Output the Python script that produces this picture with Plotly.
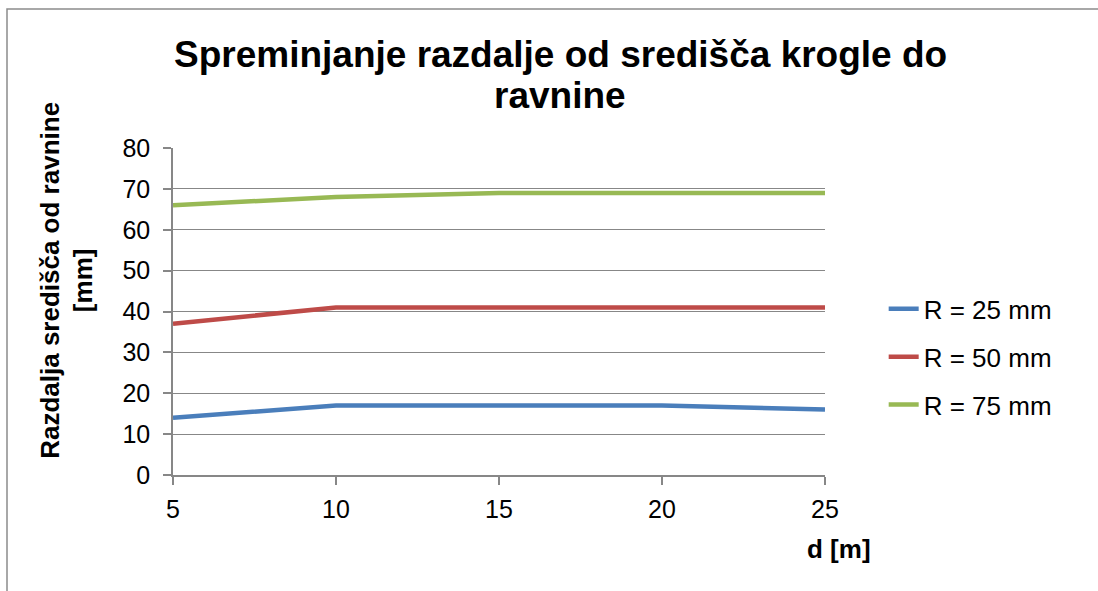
import plotly.graph_objects as go

# data
d_m = [5, 10, 15, 20, 25]
r25 = [14, 17, 17, 17, 16]
r50 = [37, 41, 41, 41, 41]
r75 = [66, 68, 69, 69, 69]
series_names = ["R = 25 mm", "R = 50 mm", "R = 75 mm"]
series_colors = ["#4A7EBB", "#BE4B48", "#98B954"]

FONT = "Liberation Sans, Arial, sans-serif"
GRID = "#878787"

fig = go.Figure()
for i, (name, vals, col) in enumerate(zip(series_names, [r25, r50, r75], series_colors)):
    fig.add_trace(go.Scatter(x=d_m, y=vals, mode="lines", name=name,
                             legendgroup="g%d" % i,
                             line=dict(color=col, width=4.5)))

fig.update_layout(
    width=1098, height=591,
    margin=dict(l=173, r=273, t=148, b=116),
    paper_bgcolor="white", plot_bgcolor="white",
    font=dict(family=FONT, size=25, color="black"),
    showlegend=True,
    legend=dict(x=1.09, y=0.361, xanchor="left", yanchor="middle",
                font=dict(size=26), tracegroupgap=11,
                bgcolor="rgba(0,0,0,0)"),
)

fig.update_xaxes(range=[5, 25], tickvals=d_m, showgrid=False,
                 showline=True, linecolor=GRID, linewidth=1.5,
                 ticks="outside", ticklen=8, tickcolor=GRID, tickwidth=1.5,
                 tickfont=dict(size=25), ticklabelstandoff=3, zeroline=False)
fig.update_yaxes(range=[0, 80], dtick=10, showgrid=True, gridcolor=GRID,
                 gridwidth=1.3, showline=True, linecolor=GRID, linewidth=1.5,
                 ticks="outside", ticklen=8, tickcolor=GRID, tickwidth=1.5,
                 tickfont=dict(size=25), ticklabelstandoff=8, zeroline=False)

# title (two lines placed separately to match the tight line spacing)
fig.add_annotation(text="<b>Spreminjanje razdalje od središča krogle do</b>",
                   xref="paper", yref="paper", x=0.594, y=(475 - 55) / 327,
                   showarrow=False, font=dict(size=37), yanchor="middle")
fig.add_annotation(text="<b>ravnine</b>",
                   xref="paper", yref="paper", x=0.594, y=(475 - 96) / 327,
                   showarrow=False, font=dict(size=37), yanchor="middle")

# axis titles
fig.add_annotation(text="<b>Razdalja središča od ravnine<br>[mm]</b>",
                   xref="paper", yref="paper", x=-0.163, y=0.596,
                   textangle=-90, showarrow=False, font=dict(size=26),
                   align="center", xanchor="center", yanchor="middle")
fig.add_annotation(text="<b>d [m]</b>", xref="paper", yref="paper",
                   x=1.021, y=-0.226, showarrow=False, font=dict(size=26),
                   xanchor="center", yanchor="middle")

# outer chart border (only left/top edges visible in the frame)
fig.add_shape(type="rect", xref="paper", yref="paper",
              x0=-0.2546, x1=2, y0=-1, y1=1.425,
              line=dict(color="#8c8c8c", width=1.5), layer="below")

fig.write_html("out.html", config={"displayModeBar": False},
               post_script="document.body.style.margin='0px';")
